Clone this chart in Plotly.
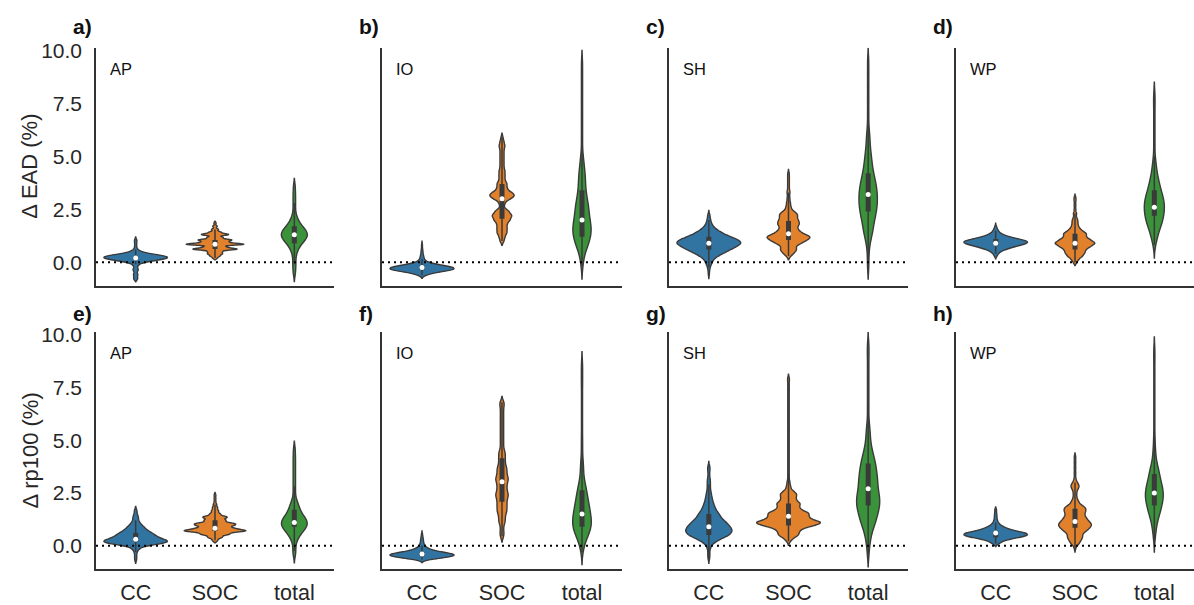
import numpy as np
import plotly.graph_objects as go

CATEGORIES = ["CC", "SOC", "total"]
REGIONS = ["AP", "IO", "SH", "WP"]
PANEL_LETTERS = [["a)", "b)", "c)", "d)"], ["e)", "f)", "g)", "h)"]]
METRIC_TITLES = ["Δ EAD (%)", "Δ rp100 (%)"]
Y_TICKS = [0.0, 2.5, 5.0, 7.5, 10.0]
COLORS = ["#3274a1", "#e1812c", "#3a923a"]

# Relative change of expected annual damage (%): (value, number of runs)
EAD_AP = {
    "CC": [(-0.78, 3), (-0.68, 1), (-0.58, 3), (-0.47, 1), (-0.35, 4), (-0.2, 2), (-0.1, 3),
           (0.0, 8), (0.1, 22), (0.2, 34), (0.3, 30), (0.4, 14), (0.5, 5), (0.6, 2), (0.7, 1),
           (0.8, 1), (0.9, 1), (1.0, 1), (1.06, 1)],
    "SOC": [(0.2, 2), (0.3, 4), (0.4, 6), (0.5, 6), (0.62, 19), (0.72, 9), (0.85, 25), (0.95, 10),
            (1.05, 14), (1.17, 7), (1.31, 12), (1.42, 5), (1.55, 3), (1.7, 2), (1.85, 1)],
    "total": [(-0.55, 1), (-0.3, 1), (-0.1, 1), (0.1, 1), (0.3, 1), (0.5, 2), (0.7, 3), (0.9, 5),
              (1.1, 8), (1.3, 9), (1.5, 8), (1.7, 5), (1.9, 3), (2.1, 2), (2.3, 1), (2.55, 1),
              (2.8, 1), (3.05, 1), (3.3, 1), (3.6, 1)],
}
EAD_IO = {
    "CC": [(-0.62, 5), (-0.55, 14), (-0.45, 40), (-0.35, 70), (-0.25, 70), (-0.15, 45),
           (-0.05, 20), (0.05, 8), (0.15, 5), (0.25, 4), (0.35, 3), (0.45, 2), (0.55, 2),
           (0.65, 1), (0.75, 1), (0.85, 1)],
    "SOC": [(1.0, 2), (1.2, 3), (1.4, 5), (1.6, 5), (1.8, 5), (2.0, 8), (2.2, 10), (2.4, 7),
            (2.6, 2), (2.8, 3), (3.0, 7), (3.15, 10), (3.3, 8), (3.5, 5), (3.7, 5), (3.9, 3),
            (4.1, 3), (4.3, 3), (4.5, 2), (4.7, 2), (4.9, 2), (5.1, 2), (5.3, 2), (5.5, 3),
            (5.7, 2), (5.9, 1)],
    "total": [(-0.2, 1), (0.1, 1), (0.4, 3), (0.8, 7), (1.2, 10), (1.6, 11), (2.0, 9), (2.4, 8),
              (2.8, 7), (3.2, 5), (3.6, 4), (4.0, 4), (4.4, 3), (4.8, 2), (5.2, 1), (5.8, 1),
              (6.4, 1), (7.0, 1), (7.6, 1), (8.2, 1), (8.8, 1), (9.4, 1)],
}
EAD_SH = {
    "CC": [(-0.57, 1), (-0.4, 1), (-0.25, 2), (-0.1, 3), (0.0, 3), (0.1, 4), (0.2, 6), (0.3, 9),
           (0.4, 13), (0.5, 17), (0.6, 21), (0.7, 25), (0.8, 29), (0.9, 32), (1.0, 31), (1.1, 26),
           (1.2, 21), (1.3, 16), (1.4, 12), (1.5, 9), (1.6, 6), (1.7, 4), (1.8, 3), (1.9, 2),
           (2.0, 2), (2.1, 1), (2.2, 1), (2.25, 1)],
    "SOC": [(0.3, 3), (0.45, 7), (0.6, 10), (0.75, 8), (0.9, 15), (1.05, 22), (1.2, 27),
            (1.35, 17), (1.5, 12), (1.65, 10), (1.8, 13), (1.95, 12), (2.1, 10), (2.25, 11),
            (2.4, 7), (2.6, 4), (2.8, 3), (3.0, 2), (3.15, 1), (3.3, 2), (3.45, 1), (3.6, 1),
            (3.75, 1), (3.9, 1), (4.05, 1), (4.2, 1)],
    "total": [(-0.2, 1), (0.3, 1), (0.7, 1), (1.0, 2), (1.3, 3), (1.6, 5), (2.0, 7), (2.4, 9),
              (2.8, 10), (3.2, 10), (3.6, 9), (4.0, 7), (4.4, 5), (4.8, 4), (5.2, 3), (5.6, 2),
              (6.0, 2), (6.5, 1), (7.1, 1), (7.7, 1), (8.3, 1), (8.9, 1), (9.5, 1)],
}
EAD_WP = {
    "CC": [(0.3, 2), (0.4, 3), (0.5, 6), (0.6, 12), (0.7, 20), (0.8, 30), (0.9, 40), (1.0, 40),
           (1.1, 28), (1.2, 17), (1.3, 9), (1.4, 5), (1.5, 3), (1.6, 2), (1.7, 1)],
    "SOC": [(0.0, 2), (0.15, 4), (0.3, 8), (0.45, 10), (0.6, 11), (0.75, 16), (0.9, 21),
            (1.05, 16), (1.2, 11), (1.35, 12), (1.5, 7), (1.65, 4), (1.8, 3), (1.95, 3),
            (2.1, 2), (2.3, 2), (2.5, 1), (2.7, 1), (2.9, 1), (3.05, 1)],
    "total": [(0.8, 1), (1.1, 2), (1.4, 4), (1.8, 8), (2.2, 10), (2.6, 11), (3.0, 10), (3.4, 7),
              (3.8, 5), (4.2, 3), (4.6, 2), (5.0, 1), (5.6, 1), (6.2, 1), (6.8, 1), (7.4, 1),
              (7.9, 1)],
}

# Relative change of the 100-year return period damage (%): (value, number of runs)
RP100_AP = {
    "CC": [(-0.68, 1), (-0.55, 1), (-0.42, 1), (-0.3, 1), (-0.2, 2), (-0.1, 3), (0.0, 8),
           (0.1, 20), (0.2, 26), (0.3, 20), (0.4, 16), (0.5, 14), (0.6, 12), (0.7, 9), (0.8, 7),
           (0.9, 6), (1.0, 4), (1.1, 3), (1.2, 2), (1.3, 2), (1.4, 2), (1.5, 1), (1.6, 1),
           (1.7, 1)],
    "SOC": [(0.25, 3), (0.4, 8), (0.55, 16), (0.7, 34), (0.82, 19), (0.95, 16), (1.05, 19),
            (1.2, 12), (1.35, 14), (1.5, 6), (1.65, 4), (1.8, 3), (1.95, 2), (2.1, 1),
            (2.25, 1), (2.4, 1)],
    "total": [(-0.45, 1), (-0.25, 1), (-0.05, 1), (0.15, 1), (0.3, 2), (0.5, 4), (0.7, 6),
              (0.9, 9), (1.1, 9), (1.3, 8), (1.5, 5), (1.7, 4), (1.9, 3), (2.1, 2), (2.3, 1),
              (2.55, 1), (2.8, 1), (3.05, 1), (3.3, 1), (3.55, 1), (3.8, 1), (4.05, 1), (4.3, 1),
              (4.6, 1)],
}
RP100_IO = {
    "CC": [(-0.66, 4), (-0.6, 34), (-0.5, 70), (-0.4, 70), (-0.3, 40), (-0.2, 20), (-0.1, 10),
           (0.0, 6), (0.1, 4), (0.2, 3), (0.3, 3), (0.4, 2), (0.5, 1), (0.56, 1)],
    "SOC": [(0.45, 1), (0.65, 1), (0.9, 1), (1.15, 2), (1.4, 2), (1.65, 3), (1.9, 3), (2.15, 3),
            (2.4, 4), (2.65, 3), (2.9, 3), (3.15, 4), (3.4, 3), (3.65, 3), (3.9, 2), (4.15, 2),
            (4.4, 2), (4.65, 1), (4.9, 1), (5.15, 1), (5.4, 1), (5.65, 1), (5.9, 1), (6.15, 1),
            (6.4, 1), (6.65, 1), (6.8, 1)],
    "total": [(-0.3, 1), (0.0, 2), (0.3, 4), (0.6, 7), (0.9, 9), (1.2, 9), (1.5, 8), (1.8, 7),
              (2.1, 6), (2.4, 5), (2.7, 4), (3.0, 3), (3.4, 2), (3.8, 2), (4.2, 1), (4.7, 1),
              (5.2, 1), (5.8, 1), (6.4, 1), (7.0, 1), (7.6, 1), (8.1, 1), (8.6, 1)],
}
RP100_SH = {
    "CC": [(-0.6, 1), (-0.45, 1), (-0.3, 1), (-0.1, 2), (0.1, 5), (0.3, 14), (0.5, 26), (0.7, 30),
           (0.9, 27), (1.1, 22), (1.3, 16), (1.5, 13), (1.7, 9), (1.9, 7), (2.1, 5), (2.3, 4),
           (2.5, 3), (2.7, 2), (2.9, 2), (3.1, 2), (3.3, 1), (3.5, 1), (3.65, 1), (3.75, 1)],
    "SOC": [(0.2, 2), (0.35, 5), (0.5, 11), (0.65, 11), (0.8, 14), (0.95, 27), (1.1, 37),
            (1.25, 23), (1.4, 21), (1.55, 22), (1.7, 13), (1.85, 11), (2.0, 13), (2.15, 8),
            (2.3, 8), (2.45, 9), (2.6, 5), (2.8, 3), (3.0, 2), (3.2, 1), (3.4, 1), (3.6, 1),
            (3.8, 1), (4.0, 1), (4.2, 1), (4.4, 1), (4.6, 1), (4.8, 1), (5.0, 1), (5.2, 1),
            (5.4, 1), (5.6, 1), (5.8, 1), (6.0, 1), (6.2, 1), (6.4, 1), (6.6, 1), (6.8, 1),
            (7.0, 1), (7.2, 1), (7.4, 1), (7.6, 1), (7.8, 1), (7.95, 1)],
    "total": [(-0.4, 1), (0.0, 1), (0.3, 2), (0.7, 4), (1.1, 7), (1.5, 9), (1.9, 11), (2.3, 11),
              (2.7, 9), (3.1, 9), (3.5, 8), (3.9, 7), (4.3, 5), (4.7, 3), (5.1, 2), (5.5, 2),
              (6.0, 1), (6.6, 1), (7.2, 1), (7.8, 1), (8.4, 1), (9.0, 1), (9.5, 1)],
}
RP100_WP = {
    "CC": [(0.1, 6), (0.2, 10), (0.3, 22), (0.4, 40), (0.5, 55), (0.6, 50), (0.7, 32), (0.8, 20),
           (0.9, 12), (1.0, 7), (1.1, 4), (1.2, 3), (1.3, 2), (1.4, 2), (1.5, 2), (1.6, 1),
           (1.7, 2)],
    "SOC": [(-0.1, 1), (0.1, 4), (0.25, 5), (0.4, 7), (0.55, 6), (0.7, 10), (0.85, 13), (1.0, 15),
            (1.15, 12), (1.3, 10), (1.45, 8), (1.6, 9), (1.75, 10), (1.9, 7), (2.1, 4), (2.3, 2),
            (2.5, 2), (2.7, 3), (2.85, 4), (3.0, 2), (3.2, 1), (3.45, 1), (3.7, 1), (3.95, 1),
            (4.2, 1)],
    "total": [(0.3, 1), (0.7, 2), (1.0, 2), (1.3, 4), (1.6, 6), (1.9, 7), (2.2, 9), (2.5, 9),
              (2.8, 8), (3.1, 6), (3.4, 5), (3.7, 4), (4.0, 2), (4.4, 2), (4.8, 1), (5.2, 1),
              (5.8, 1), (6.4, 1), (7.0, 1), (7.6, 1), (8.2, 1), (8.8, 1), (9.3, 1)],
}

# Kernel bandwidths for the density estimate of each violin (CC, SOC, total)
BANDWIDTHS = [
    [[0.07, 0.045, 0.18], [0.07, 0.1, 0.3], [0.1, 0.09, 0.3], [0.07, 0.08, 0.3]],
    [[0.08, 0.06, 0.18], [0.07, 0.14, 0.3], [0.12, 0.09, 0.3], [0.07, 0.1, 0.3]],
]

PANELS = [[EAD_AP, EAD_IO, EAD_SH, EAD_WP], [RP100_AP, RP100_IO, RP100_SH, RP100_WP]]

# ---- layout geometry (pixels of a 1194 x 605 page) ----
W, H = 1194, 605
COL_LEFT = [96, 382, 669, 956]
COL_RIGHT = [334, 622, 908, 1194]
ROW_TOP = [40, 333]
ROW_BOTTOM = [285, 577]
Y_RANGE = [-1.1, 10.13]
MAX_WIDTH = 0.8
EDGE = "#3a3a3a"
AXIS_COLOR = "#333333"
FONT = "Arial, Liberation Sans, Helvetica, sans-serif"


def expand(pairs):
    vals = np.array([p[0] for p in pairs], dtype=float)
    counts = np.array([p[1] for p in pairs], dtype=int)
    return np.repeat(vals, counts)


fig = go.Figure()
annotations = []
shapes = []

for r in range(2):
    for c in range(4):
        k = r * 4 + c + 1
        xa = "x" if k == 1 else f"x{k}"
        ya = "y" if k == 1 else f"y{k}"
        panel = PANELS[r][c]
        samples = [expand(panel[cat]) for cat in CATEGORIES]
        bws = BANDWIDTHS[r][c]
        # violin widths scaled by the number of runs behind each violin
        n_max = max(len(s) for s in samples)

        for i, (cat, s, bw) in enumerate(zip(CATEGORIES, samples, bws)):
            fig.add_trace(go.Violin(
                y=s, x0=i, name=cat, xaxis=xa, yaxis=ya,
                bandwidth=bw, spanmode="soft", scalemode="width",
                width=MAX_WIDTH * len(s) / n_max,
                fillcolor=COLORS[i], opacity=1.0,
                line=dict(color=EDGE, width=1.4),
                points=False, box_visible=False, meanline_visible=False,
                showlegend=False, hoverinfo="skip",
            ))
            # inner box: whiskers, interquartile bar and median dot
            q1, med, q3 = np.percentile(s, [25, 50, 75])
            iqr = q3 - q1
            lo = s[s >= q1 - 1.5 * iqr].min()
            hi = s[s <= q3 + 1.5 * iqr].max()
            fig.add_trace(go.Scatter(x=[i, i], y=[lo, hi], mode="lines", xaxis=xa, yaxis=ya,
                                     line=dict(color=EDGE, width=1.5),
                                     showlegend=False, hoverinfo="skip"))
            fig.add_trace(go.Scatter(x=[i, i], y=[q1, q3], mode="lines", xaxis=xa, yaxis=ya,
                                     line=dict(color=EDGE, width=5),
                                     showlegend=False, hoverinfo="skip"))
            fig.add_trace(go.Scatter(x=[i], y=[med], mode="markers", xaxis=xa, yaxis=ya,
                                     marker=dict(color="white", size=5),
                                     showlegend=False, hoverinfo="skip"))

        x_dom = [COL_LEFT[c] / W, COL_RIGHT[c] / W]
        y_dom = [1 - ROW_BOTTOM[r] / H, 1 - ROW_TOP[r] / H]
        xkey = "xaxis" if k == 1 else f"xaxis{k}"
        ykey = "yaxis" if k == 1 else f"yaxis{k}"
        fig.update_layout({
            xkey: dict(domain=x_dom, anchor=ya, range=[-0.5, 2.5], tickvals=[0, 1, 2],
                       ticktext=CATEGORIES, showticklabels=(r == 1), showgrid=False,
                       zeroline=False, showline=True, linecolor=AXIS_COLOR, linewidth=1.5,
                       ticks="", ticklabelstandoff=4,
                       tickfont=dict(family=FONT, size=21.5, color="#262626")),
            ykey: dict(domain=y_dom, anchor=xa, range=Y_RANGE, tickvals=Y_TICKS,
                       tickformat=".1f", showticklabels=(c == 0), showgrid=False,
                       zeroline=False, showline=True, linecolor=AXIS_COLOR, linewidth=1.5,
                       ticks="", ticklabelstandoff=8,
                       tickfont=dict(family=FONT, size=21, color="#262626")),
        })

        # dotted reference line at zero change
        shapes.append(dict(type="line", xref=f"{xa} domain", x0=0, x1=1, yref=ya, y0=0, y1=0,
                           line=dict(color="black", width=2, dash="2px,4px"), layer="above"))

        # panel letter and region name
        annotations.append(dict(text=f"<b>{PANEL_LETTERS[r][c]}</b>", xref="paper", yref="paper",
                                x=(COL_LEFT[c] - 25) / W, y=1 - (18 + 296 * r) / H,
                                xanchor="left", yanchor="middle", showarrow=False,
                                font=dict(family=FONT, size=21, color="#111111")))
        annotations.append(dict(text=REGIONS[c], xref="paper", yref="paper",
                                x=(COL_LEFT[c] + 12) / W, y=1 - (ROW_TOP[r] + 22) / H,
                                xanchor="left", yanchor="middle", showarrow=False,
                                font=dict(family=FONT, size=16.5, color="#111111")))

    annotations.append(dict(text=METRIC_TITLES[r], xref="paper", yref="paper",
                            x=30 / W, y=1 - (ROW_TOP[r] + ROW_BOTTOM[r]) / 2 / H,
                            xanchor="center", yanchor="middle", textangle=-90, showarrow=False,
                            font=dict(family=FONT, size=22, color="#262626")))

fig.update_layout(
    width=W, height=H, autosize=False,
    margin=dict(l=0, r=0, t=0, b=0),
    paper_bgcolor="white", plot_bgcolor="white",
    annotations=annotations, shapes=shapes,
    violinmode="overlay",
)

fig.write_html("out.html")
